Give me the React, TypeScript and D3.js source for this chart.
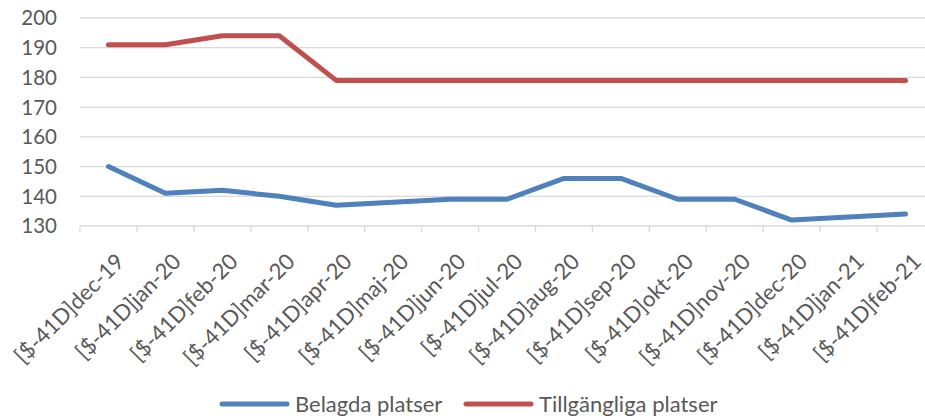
import React, { useEffect, useRef } from 'react';
import * as d3 from 'd3';

const months = [
  'dec-19', 'jan-20', 'feb-20', 'mar-20', 'apr-20', 'maj-20', 'jun-20', 'jul-20',
  'aug-20', 'sep-20', 'okt-20', 'nov-20', 'dec-20', 'jan-21', 'feb-21',
];
const belagda = [150, 141, 142, 140, 137, 138, 139, 139, 146, 146, 139, 139, 132, 133, 134];
const tillgangliga = [191, 191, 194, 194, 179, 179, 179, 179, 179, 179, 179, 179, 179, 179, 179];
const yTicks = [130, 140, 150, 160, 170, 180, 190, 200];

const seriesList = [
  { name: 'Belagda platser', values: belagda, color: '#4F81BD' },
  { name: 'Tillgängliga platser', values: tillgangliga, color: '#C0504D' },
];

const FONT = 'Lato, "Open Sans", sans-serif';
const TEXT = '#595959';

const App = () => {
  const svgRef = useRef<SVGSVGElement>(null);

  useEffect(() => {
    const svg = d3.select(svgRef.current);
    svg.selectAll('*').remove();

    const x = d3.scaleBand<string>()
      .domain(months)
      .range([80, 934]);

    const y = d3.scaleLinear()
      .domain([130, 200])
      .range([226, 18]);

    // gridlines
    svg.append('g')
      .selectAll('line')
      .data(yTicks)
      .enter()
      .append('line')
      .attr('x1', 80)
      .attr('x2', 925)
      .attr('y1', d => y(d))
      .attr('y2', d => y(d))
      .attr('stroke', '#D9D9D9')
      .attr('stroke-width', 1.3);

    // y labels
    svg.append('g')
      .selectAll('text')
      .data(yTicks)
      .enter()
      .append('text')
      .attr('x', 57)
      .attr('y', d => y(d))
      .attr('dy', '0.36em')
      .attr('text-anchor', 'end')
      .style('font-family', FONT)
      .style('font-size', '20.5px')
      .style('fill', TEXT)
      .text(d => d);

    // x ticks
    const tickPos = months.map(m => x(m) as number).concat([x.range()[1]]);
    svg.append('g')
      .selectAll('line')
      .data(tickPos)
      .enter()
      .append('line')
      .attr('x1', d => d)
      .attr('x2', d => d)
      .attr('y1', y(130))
      .attr('y2', y(130) + 6)
      .attr('stroke', '#D9D9D9')
      .attr('stroke-width', 1.3);

    // x labels
    svg.append('g')
      .selectAll('text')
      .data(months)
      .enter()
      .append('text')
      .attr('transform', d => `translate(${(x(d) as number) + x.bandwidth() / 2 + 17},263) rotate(-45)`)
      .attr('text-anchor', 'end')
      .style('font-family', FONT)
      .style('font-size', '22px')
      .style('fill', TEXT)
      .text(d => `[$-41D]${d}`);

    // lines
    const line = d3.line<number>()
      .x((_, i) => (x(months[i]) as number) + x.bandwidth() / 2)
      .y(d => y(d));

    svg.append('g')
      .selectAll('path')
      .data(seriesList)
      .enter()
      .append('path')
      .attr('d', d => line(d.values))
      .attr('fill', 'none')
      .attr('stroke', d => d.color)
      .attr('stroke-width', 5)
      .attr('stroke-linecap', 'round')
      .attr('stroke-linejoin', 'round');

    // legend
    const legendX = [222, 466];
    const lg = svg.append('g')
      .selectAll('g')
      .data(seriesList)
      .enter()
      .append('g')
      .attr('transform', (_, i) => `translate(${legendX[i]},404)`);
    lg.append('line')
      .attr('x1', 0)
      .attr('x2', 65)
      .attr('stroke', d => d.color)
      .attr('stroke-width', 5)
      .attr('stroke-linecap', 'round');
    lg.append('text')
      .attr('x', 73)
      .attr('dy', '0.36em')
      .style('font-family', FONT)
      .style('font-size', '22px')
      .style('fill', TEXT)
      .text(d => d.name);
  }, []);

  return (
    <svg ref={svgRef} width={925} height={416} style={{ position: 'absolute', left: 0, top: 0 }}>
    </svg>
  );
};

export default App;
